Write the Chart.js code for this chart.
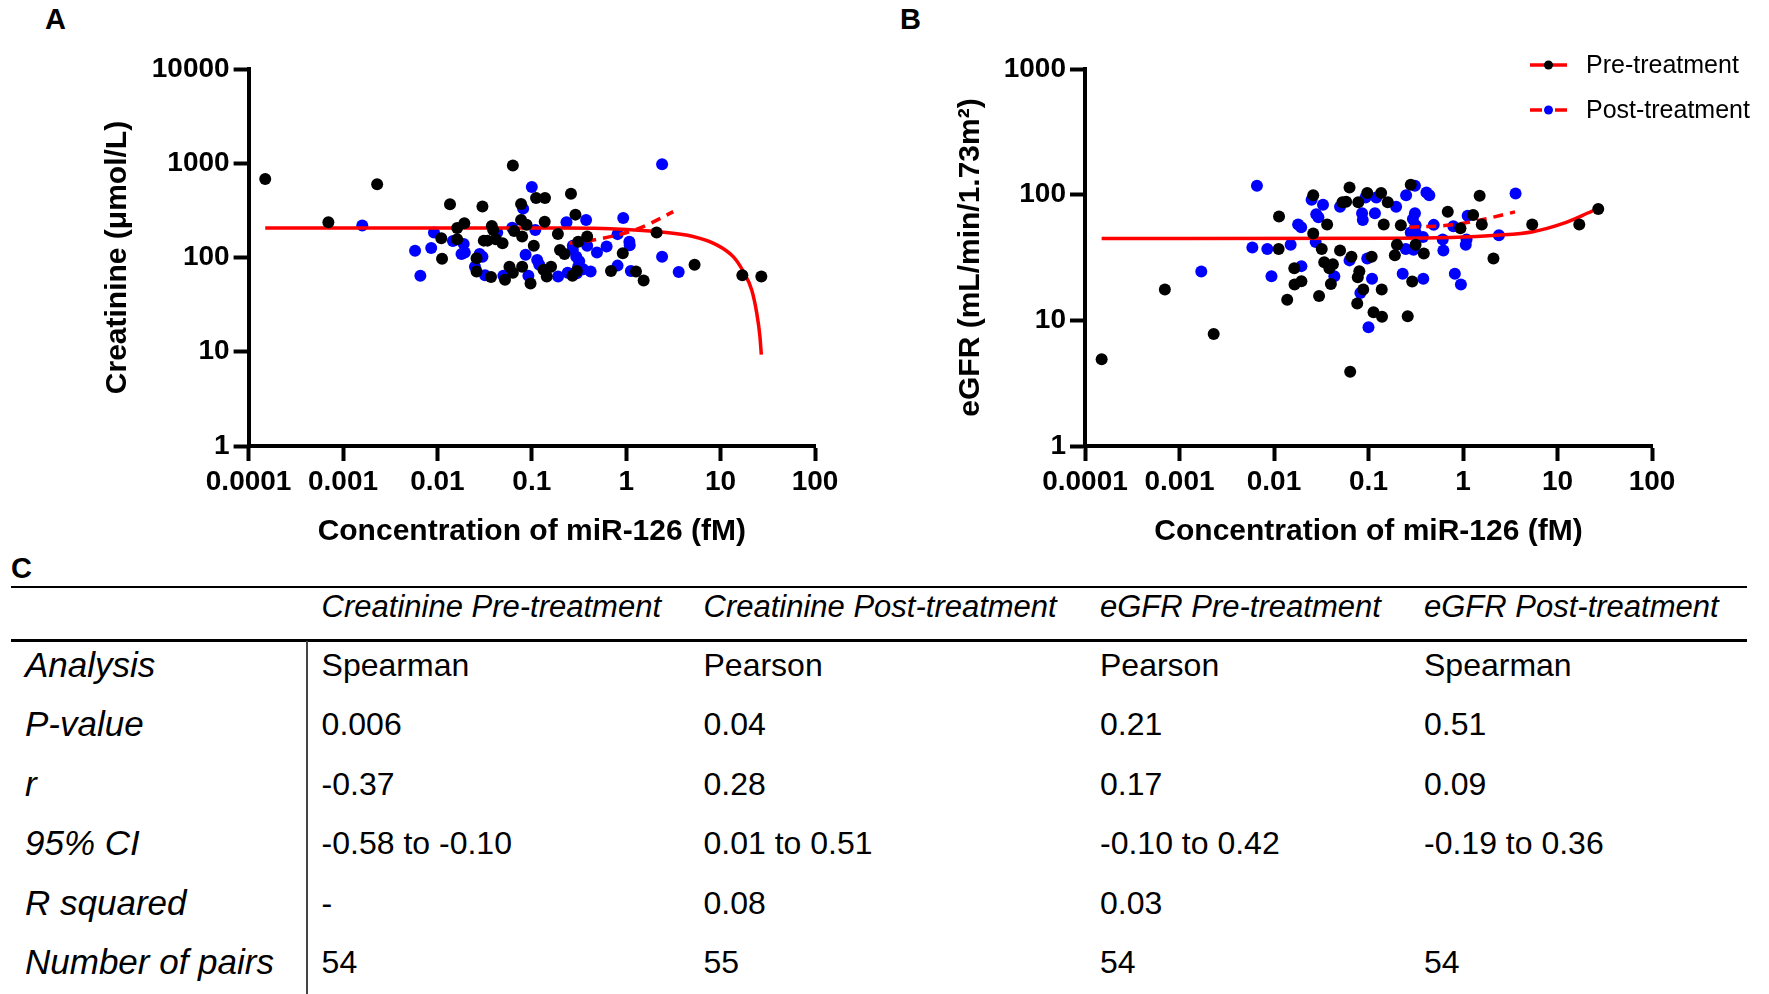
<!DOCTYPE html>
<html>
<head>
<meta charset="utf-8">
<title>miR-126 vs creatinine / eGFR</title>
<script src="https://cdn.jsdelivr.net/npm/chart.js@4.4.1/dist/chart.umd.min.js"></script>
<style>
  body { margin: 0; width: 1769px; height: 994px; background: #fff; position: relative; overflow: hidden;
         font-family: 'Liberation Sans', Arial, sans-serif; color: #000; }
  .panel { position: absolute; font-weight: bold; font-size: 29px; line-height: 30px; }
  #wrapA { position: absolute; left: 0; top: 0; }
  #wrapB { position: absolute; left: 880px; top: 0; }
  .rule { position: absolute; left: 11px; width: 1736px; background: #000; }
  .vline { position: absolute; left: 306px; top: 641px; width: 1.5px; height: 353px; background: #444; }
  .cell { position: absolute; height: 40px; line-height: 40px; white-space: nowrap; }
  .head { font-style: italic; font-size: 31px; }
  .rowname { font-style: italic; font-size: 35px; }
  .val { font-size: 32px; }
</style>
</head>
<body>
<div class="panel" style="left:45px;top:4px">A</div>
<div class="panel" style="left:900px;top:4px">B</div>
<div class="panel" style="left:11px;top:553px">C</div>

<div id="wrapA"><canvas id="chartA" width="880" height="560"></canvas></div>
<div id="wrapB"><canvas id="chartB" width="889" height="560"></canvas></div>

<div class="rule" style="top:585.5px;height:2.5px"></div>
<div class="rule" style="top:639px;height:3px"></div>
<div class="vline"></div>
<div id="table"></div>

<script>
// axis ticks
const xTicks = [0.0001, 0.001, 0.01, 0.1, 1, 10, 100];
const xTickLabels = ['0.0001', '0.001', '0.01', '0.1', '1', '10', '100'];
const creatTicks = [1, 10, 100, 1000, 10000];
const creatTickLabels = ['1', '10', '100', '1000', '10000'];
const egfrTicks = [1, 10, 100, 1000];
const egfrTickLabels = ['1', '10', '100', '1000'];

// creatinine (umol/L) vs miR-126 (fM)
const creatPre = [
  [0.00015, 680], [0.0007, 237], [0.0023, 600], [0.0136, 367], [0.030, 347], [0.063, 945],
  [0.0112, 97], [0.011, 160], [0.0162, 206], [0.0193, 231], [0.0162, 156], [0.0377, 216],
  [0.039, 196], [0.031, 151], [0.034, 151], [0.0415, 156], [0.049, 142], [0.026, 98],
  [0.026, 71], [0.037, 62], [0.052, 58], [0.058, 80], [0.063, 69], [0.079, 80],
  [0.097, 53], [0.079, 167], [0.065, 191], [0.077, 250], [0.088, 222], [0.105, 133],
  [0.077, 370], [0.111, 428], [0.138, 428], [0.137, 239], [0.189, 178], [0.199, 120],
  [0.222, 109], [0.26, 476], [0.29, 285], [0.31, 147], [0.386, 167], [0.133, 74],
  [0.144, 63], [0.16, 80], [0.27, 64], [0.30, 72], [0.69, 72], [0.92, 111], [1.27, 71],
  [1.53, 57], [2.1, 184], [5.3, 84], [17, 65], [27, 63]
];
const creatPost = [
  [0.0016, 218], [0.0058, 118], [0.0066, 64], [0.0086, 126], [0.0092, 184], [0.0146, 150],
  [0.019, 139], [0.018, 109], [0.0195, 113], [0.028, 109], [0.030, 102], [0.025, 80],
  [0.032, 65], [0.05, 64], [0.043, 184], [0.062, 207], [0.081, 330], [0.10, 560],
  [0.109, 196], [0.086, 107], [0.114, 94], [0.12, 84], [0.092, 64], [0.19, 63],
  [0.233, 237], [0.376, 250], [0.386, 133], [0.272, 120], [0.296, 102], [0.318, 91],
  [0.30, 68], [0.24, 69], [0.42, 71], [0.35, 75], [0.49, 113], [0.62, 131], [0.81, 177],
  [0.93, 263], [1.08, 147], [1.09, 135], [0.81, 82], [1.12, 72], [2.4, 975], [2.4, 102],
  [3.6, 70], [0.272, 133], [0.31, 80]
];
// regression lines (linear fit, curved on log axes)
const creatPreFit = [
  [0.00015, 205], [0.2, 205], [1, 198], [2.1, 188], [5.1, 167], [9.1, 136], [13.6, 102],
  [17.4, 71], [21.4, 45], [24.1, 26], [26.1, 14.5], [27, 9.3]
];
const creatPostFit = [[0.25, 142], [0.45, 153], [1.3, 200], [2.3, 260], [3.15, 307]];

// eGFR (mL/min/1.73m2) vs miR-126 (fM)
const egfrPre = [
  [0.00015, 4.9], [0.0007, 17.6], [0.0023, 7.8], [0.0113, 67], [0.0112, 37], [0.0164, 26],
  [0.0165, 19.3], [0.0195, 20.5], [0.0138, 14.6], [0.026, 99], [0.026, 49], [0.032, 37],
  [0.0365, 58], [0.034, 29], [0.0385, 26], [0.042, 28], [0.040, 19.5], [0.030, 15.6],
  [0.050, 36], [0.053, 87], [0.058, 88], [0.063, 114], [0.078, 87], [0.066, 32],
  [0.064, 3.9], [0.080, 24.6], [0.077, 22], [0.088, 17.6], [0.076, 13.6], [0.097, 103],
  [0.108, 32], [0.136, 103], [0.16, 87], [0.145, 58], [0.138, 17.6], [0.113, 11.6],
  [0.139, 10.7], [0.20, 40], [0.19, 33], [0.22, 57], [0.28, 120], [0.315, 40], [0.385, 34],
  [0.29, 20.4], [0.26, 10.8], [0.69, 73], [0.94, 54], [1.28, 69], [1.5, 98], [1.58, 58],
  [2.1, 31], [5.4, 58], [17, 58], [27, 77]
];
const egfrPost = [
  [0.0066, 118], [0.0017, 24.5], [0.0059, 38], [0.0085, 37], [0.0094, 22.4], [0.015, 40],
  [0.018, 58], [0.0194, 55], [0.0195, 27], [0.025, 91], [0.033, 83], [0.028, 70],
  [0.0295, 66], [0.0276, 42], [0.0435, 22.4], [0.050, 80], [0.063, 30], [0.0855, 71],
  [0.087, 63], [0.093, 95], [0.117, 71], [0.097, 31], [0.109, 21.4], [0.082, 16.5],
  [0.10, 8.8], [0.121, 95], [0.196, 80], [0.25, 99], [0.31, 118], [0.41, 104], [0.44, 99],
  [0.31, 71], [0.295, 64], [0.315, 57], [0.28, 50], [0.377, 46], [0.248, 37], [0.30, 36.4],
  [0.23, 23.5], [0.38, 21.4], [0.49, 57.5], [0.61, 44], [0.62, 36], [0.79, 56], [0.82, 23.5],
  [0.95, 19.3], [1.09, 44], [1.07, 40], [1.12, 68], [2.4, 47.5], [3.6, 102], [0.315, 50]
];
const egfrPreFit = [
  [0.00015, 44.7], [0.2, 44.9], [2.5, 47.7], [5.5, 50.7], [11.5, 59], [18.7, 68.7], [26.6, 77.6]
];
const egfrPostFit = [[0.27, 55], [0.73, 57.3], [1.4, 62], [3.55, 72.9]];

// table C
const tableColumns = ['Creatinine Pre-treatment', 'Creatinine Post-treatment', 'eGFR Pre-treatment', 'eGFR Post-treatment'];
const tableRows = ['Analysis', 'P-value', 'r', '95% CI', 'R squared', 'Number of pairs'];
const tableCells = [
  ['Spearman', 'Pearson', 'Pearson', 'Spearman'],
  ['0.006', '0.04', '0.21', '0.51'],
  ['-0.37', '0.28', '0.17', '0.09'],
  ['-0.58 to -0.10', '0.01 to 0.51', '-0.10 to 0.42', '-0.19 to 0.36'],
  ['-', '0.08', '0.03', ''],
  ['54', '55', '54', '54']
];

const RED = '#ff0000';
const BLUE = '#0000ff';
const FONT = "'Liberation Sans', Arial, sans-serif";
const tickFont = { family: FONT, size: 28, weight: 'bold' };
const titleFont = { family: FONT, size: 30, weight: 'bold' };

const pts = arr => arr.map(p => ({ x: p[0], y: p[1] }));

function logAxis(ticks, labels) {
  return {
    type: 'logarithmic',
    min: ticks[0],
    max: ticks[ticks.length - 1],
    afterBuildTicks: s => { s.ticks = ticks.map(v => ({ value: v })); },
    ticks: { callback: (v, i) => labels[i], color: '#000', font: tickFont, padding: 4,
             autoSkip: false, maxRotation: 0 },
    grid: { drawOnChartArea: false, drawTicks: true, tickLength: 15, tickWidth: 4,
            tickColor: '#000', color: '#000' },
    border: { display: true, color: '#000', width: 4 }
  };
}

// higher order = drawn earlier: blue dots, then fit lines, then black dots on top
function dots(data, color, order) {
  return { type: 'scatter', data: pts(data), backgroundColor: color, borderWidth: 0,
           pointRadius: 6, pointHoverRadius: 6, order: order };
}

function fitLine(data, dashed) {
  return { type: 'scatter', data: pts(data), showLine: true, borderColor: RED, borderWidth: 3.5,
           borderDash: dashed ? [10, 7] : [], pointRadius: 0, cubicInterpolationMode: 'monotone',
           fill: false, order: 3 };
}

function makeChart(id, cfg) {
  const x = logAxis(xTicks, xTickLabels);
  x.afterFit = s => { s.height = 114; };
  x.title = { display: true, text: 'Concentration of miR-126 (fM)', color: '#000', font: titleFont,
              padding: { top: 0, bottom: 10 } };
  const y = logAxis(cfg.yTicks, cfg.yLabels);
  y.afterFit = s => { s.width = cfg.axisLeft; };
  y.title = { display: true, text: cfg.yTitle, color: '#000', font: titleFont,
              padding: { top: cfg.titleOffset, bottom: 0 } };
  return new Chart(document.getElementById(id), {
    type: 'scatter',
    data: { datasets: cfg.datasets },
    options: {
      responsive: false,
      animation: false,
      events: [],
      clip: false,
      layout: { padding: { top: 69, right: cfg.padRight, left: 0, bottom: 0 } },
      scales: { x: x, y: y },
      plugins: { legend: { display: false }, tooltip: { enabled: false } }
    },
    plugins: cfg.plugins || []
  });
}

// legend: red line with coloured dot, as in the original figure
const seriesLegend = {
  id: 'seriesLegend',
  afterDraw(chart) {
    const ctx = chart.ctx;
    const items = [
      { text: 'Pre-treatment', dot: '#000', dash: [], y: 65 },
      { text: 'Post-treatment', dot: BLUE, dash: [12, 13], y: 110 }
    ];
    ctx.save();
    items.forEach(it => {
      ctx.strokeStyle = RED;
      ctx.lineWidth = 3.5;
      ctx.setLineDash(it.dash);
      ctx.beginPath();
      ctx.moveTo(650, it.y);
      ctx.lineTo(687, it.y);
      ctx.stroke();
      ctx.setLineDash([]);
      ctx.fillStyle = it.dot;
      ctx.beginPath();
      ctx.arc(668.5, it.y, 4.5, 0, Math.PI * 2);
      ctx.fill();
      ctx.fillStyle = '#000';
      ctx.font = '25px ' + FONT;
      ctx.textBaseline = 'middle';
      ctx.textAlign = 'left';
      ctx.fillText(it.text, 706, it.y + 1);
    });
    ctx.restore();
  }
};

makeChart('chartA', {
  yTicks: creatTicks, yLabels: creatTickLabels, yTitle: 'Creatinine (μmol/L)',
  axisLeft: 248.6, titleOffset: 100, padRight: 65,
  datasets: [
    fitLine(creatPreFit, false),
    fitLine(creatPostFit, true),
    dots(creatPre, '#000', 2),
    dots(creatPost, BLUE, 4)
  ]
});

makeChart('chartB', {
  yTicks: egfrTicks, yLabels: egfrTickLabels, yTitle: 'eGFR (mL/min/1.73m²)',
  axisLeft: 205, titleOffset: 73, padRight: 117,
  datasets: [
    fitLine(egfrPreFit, false),
    fitLine(egfrPostFit, true),
    dots(egfrPre, '#000', 2),
    dots(egfrPost, BLUE, 4)
  ],
  plugins: [seriesLegend]
});

// table C
const colX = [321.6, 703.5, 1100, 1424];
const headY = 606.5;
const rowY = [664.5, 724, 783.5, 843, 902.5, 962];
const table = document.getElementById('table');
function cell(text, x, cy, cls) {
  const d = document.createElement('div');
  d.className = 'cell ' + cls;
  d.style.left = x + 'px';
  d.style.top = (cy - 20) + 'px';
  d.textContent = text;
  table.appendChild(d);
}
tableColumns.forEach((c, j) => cell(c, colX[j], headY, 'head'));
tableRows.forEach((r, i) => {
  cell(r, 25, rowY[i], 'rowname');
  tableCells[i].forEach((v, j) => cell(v, colX[j], rowY[i], 'val'));
});
</script>
</body>
</html>
